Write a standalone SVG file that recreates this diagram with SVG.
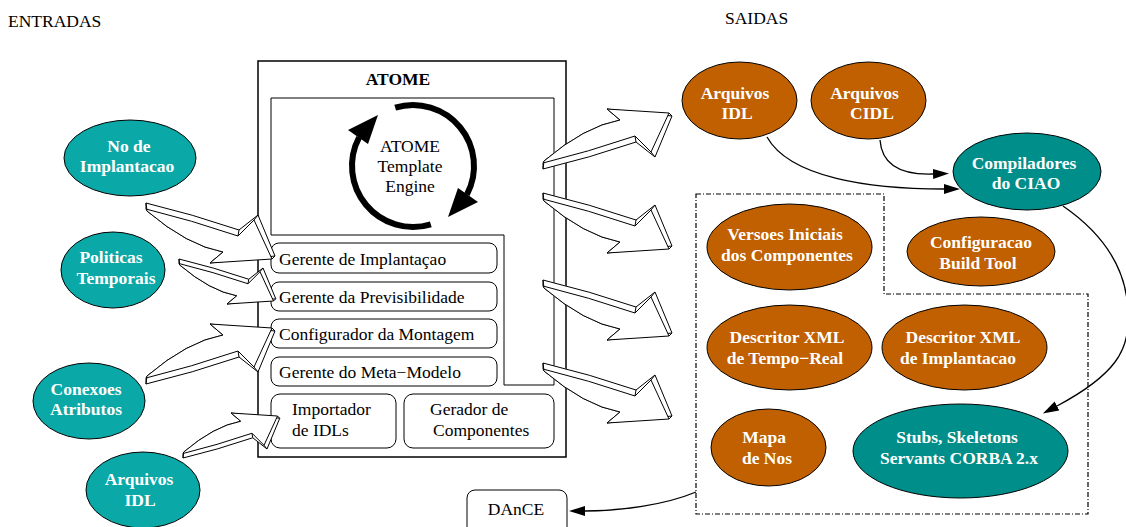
<svg xmlns="http://www.w3.org/2000/svg" width="1126" height="527" viewBox="0 0 1126 527">
<style>
text{font-family:"Liberation Serif","Times New Roman",serif;font-size:17.5px;fill:#000}
.b{font-weight:bold;fill:#fff}
.m{text-anchor:middle}
.box{fill:#fff;stroke:#000;stroke-width:1}
.el{stroke:#000;stroke-width:1}
.teal{fill:#0aa9a8}
.dteal{fill:#008e8a}
.org{fill:#c06000}
.fa path{fill:#fff;stroke:#000;stroke-width:1;stroke-linejoin:round;vector-effect:non-scaling-stroke}
.edge{fill:none;stroke:#000;stroke-width:1.3}
</style>
<defs>
<marker id="ah" markerWidth="17" markerHeight="11" refX="0" refY="5" orient="auto" markerUnits="userSpaceOnUse">
<path d="M0,0 L16,5 L0,10 Z" fill="#000"/>
</marker>
<g id="fatA" class="fa">
<path d="M0,0 Q46,11 93,27 L112,12 L129,53 L64,60 L77,49 Q41.5,42.5 1,8 Z"/>
<path d="M0,6 Q45,17 92,33 L108,17 L126,56 L64,60 L77,49 Q41.5,42.5 1,8 Z"/>
<path d="M92,33 L93,27 M108,17 L112,12 M126,56 L129,53 M0,0 L0,6" fill="none"/>
</g>
</defs>

<text x="8" y="27">ENTRADAS</text>
<text x="725" y="24">SAIDAS</text>

<g id="atome">
<rect x="258" y="61" width="308" height="396" fill="#fff" stroke="#000" stroke-width="1.5"/>
<text x="398" y="85" class="m" style="font-weight:bold">ATOME</text>
<path d="M271,98 H554 V385 H504 V235 H271 Z" fill="none" stroke="#000" stroke-width="1"/>
<g id="engine">
<path d="M395.2,107.7 A61,61 0 0 1 466.9,194.6" fill="none" stroke="#000" stroke-width="6"/>
<polygon points="478,202 458,188 448,217" fill="#000"/>
<path d="M430.8,224.3 A61,61 0 0 1 359.1,137.4" fill="none" stroke="#000" stroke-width="6"/>
<polygon points="348,130 368,144 378,115" fill="#000"/>
<text x="410" y="152" class="m">ATOME</text>
<text x="410" y="172" class="m">Template</text>
<text x="410" y="192" class="m">Engine</text>
</g>
<g id="gerente-implantacao"><rect class="box" x="271" y="243" width="226" height="30" rx="8"/><text x="279" y="265">Gerente de Implantaçao</text></g>
<g id="gerente-previsibilidade"><rect class="box" x="271" y="282" width="226" height="29" rx="8"/><text x="279" y="302.5">Gerente da Previsibilidade</text></g>
<g id="configurador-montagem"><rect class="box" x="271" y="319" width="226" height="29" rx="8"/><text x="279" y="340">Configurador da Montagem</text></g>
<g id="gerente-meta"><rect class="box" x="271" y="357" width="226" height="29" rx="8"/><text x="279" y="377.5">Gerente do Meta−Modelo</text></g>
<g id="importador"><rect class="box" x="271" y="394" width="125" height="54" rx="9"/><text x="292" y="415">Importador</text><text x="292" y="435.5">de IDLs</text></g>
<g id="gerador"><rect class="box" x="404" y="394" width="150" height="54" rx="9"/><text x="430" y="415">Gerador de</text><text x="433" y="435.5">Componentes</text></g>
</g>

<g id="in-no-implantacao"><ellipse class="el teal" cx="130" cy="158" rx="66" ry="38"/><text class="b m" x="129" y="152">No de</text><text class="b m" x="127" y="172">Implantacao</text></g>
<g id="in-politicas"><ellipse class="el teal" cx="113" cy="270" rx="52" ry="38"/><text class="b m" x="111" y="263">Politicas</text><text class="b m" x="116" y="283.5">Temporais</text></g>
<g id="in-conexoes"><ellipse class="el teal" cx="89" cy="401" rx="56" ry="38"/><text class="b m" x="86" y="394.5">Conexoes</text><text class="b m" x="86" y="415">Atributos</text></g>
<g id="in-arquivos-idl"><ellipse class="el teal" cx="143" cy="490" rx="57" ry="38"/><text class="b m" x="139" y="485">Arquivos</text><text class="b m" x="140" y="505.5">IDL</text></g>

<g id="out-arquivos-idl"><ellipse class="el org" cx="739.5" cy="100.5" rx="57.5" ry="38.5"/><text class="b m" x="735" y="98.5">Arquivos</text><text class="b m" x="737" y="119">IDL</text></g>
<g id="out-arquivos-cidl"><ellipse class="el org" cx="868.5" cy="100.5" rx="57.5" ry="38.5"/><text class="b m" x="864.5" y="98.5">Arquivos</text><text class="b m" x="872" y="119">CIDL</text></g>
<g id="compiladores"><ellipse class="el dteal" cx="1027" cy="171.5" rx="74" ry="38.5"/><text class="b m" x="1024" y="168.5">Compiladores</text><text class="b m" x="1026" y="189">do CIAO</text></g>

<g id="cluster"><path d="M696,194 H884 V294 H1088 V514 H696 Z" fill="none" stroke="#000" stroke-width="1.2" stroke-dasharray="5,2,1,2"/></g>

<g id="versoes"><ellipse class="el org" cx="789.5" cy="247" rx="82.5" ry="43"/><text class="b m" x="785" y="240">Versoes Iniciais</text><text class="b m" x="787" y="261">dos Componentes</text></g>
<g id="configuracao"><ellipse class="el org" cx="981" cy="251.5" rx="74" ry="34.5"/><text class="b m" x="981" y="248">Configuracao</text><text class="b m" x="978" y="268.5">Build Tool</text></g>
<g id="descritor-tr"><ellipse class="el org" cx="789.5" cy="347.5" rx="82.5" ry="42.5"/><text class="b m" x="787" y="343">Descritor XML</text><text class="b m" x="785" y="364">de Tempo−Real</text></g>
<g id="descritor-impl"><ellipse class="el org" cx="964.5" cy="347.5" rx="82.5" ry="42.5"/><text class="b m" x="963" y="343">Descritor XML</text><text class="b m" x="958" y="364">de Implantacao</text></g>
<g id="mapa"><ellipse class="el org" cx="768.5" cy="447.5" rx="57.5" ry="38.5"/><text class="b m" x="764" y="443">Mapa</text><text class="b m" x="767" y="464">de Nos</text></g>
<g id="stubs"><ellipse class="el dteal" cx="960.5" cy="451" rx="107.5" ry="47"/><text class="b m" x="957" y="443">Stubs, Skeletons</text><text class="b m" x="959" y="464">Servants CORBA 2.x</text></g>

<g id="dance"><rect class="box" x="467" y="490" width="100" height="45" rx="8"/><text class="m" x="516" y="515">DAnCE</text></g>

<g id="connectors">
<use href="#fatA" transform="translate(146,203)"/>
<use href="#fatA" transform="translate(179,259) scale(0.75)"/>
<use href="#fatA" transform="translate(146,384) scale(1,-1)"/>
<use href="#fatA" transform="translate(183,458) scale(0.75,-0.75)"/>
<use href="#fatA" transform="translate(543,169) scale(1,-1)"/>
<use href="#fatA" transform="translate(543,193)"/>
<use href="#fatA" transform="translate(543,280)"/>
<use href="#fatA" transform="translate(543,363)"/>
<path class="edge" d="M767,137 C790,178 870,189 944,189" marker-end="url(#ah)"/>
<path class="edge" d="M880,140 C882,168 905,175 933,174" marker-end="url(#ah)"/>
<path class="edge" d="M1063,206 C1105,235 1128,270 1128,315 C1130,350 1115,375 1057,406" marker-end="url(#ah)"/>
<path class="edge" d="M696,492 C665,505 620,511 585,511" marker-end="url(#ah)"/>
</g>
</svg>
